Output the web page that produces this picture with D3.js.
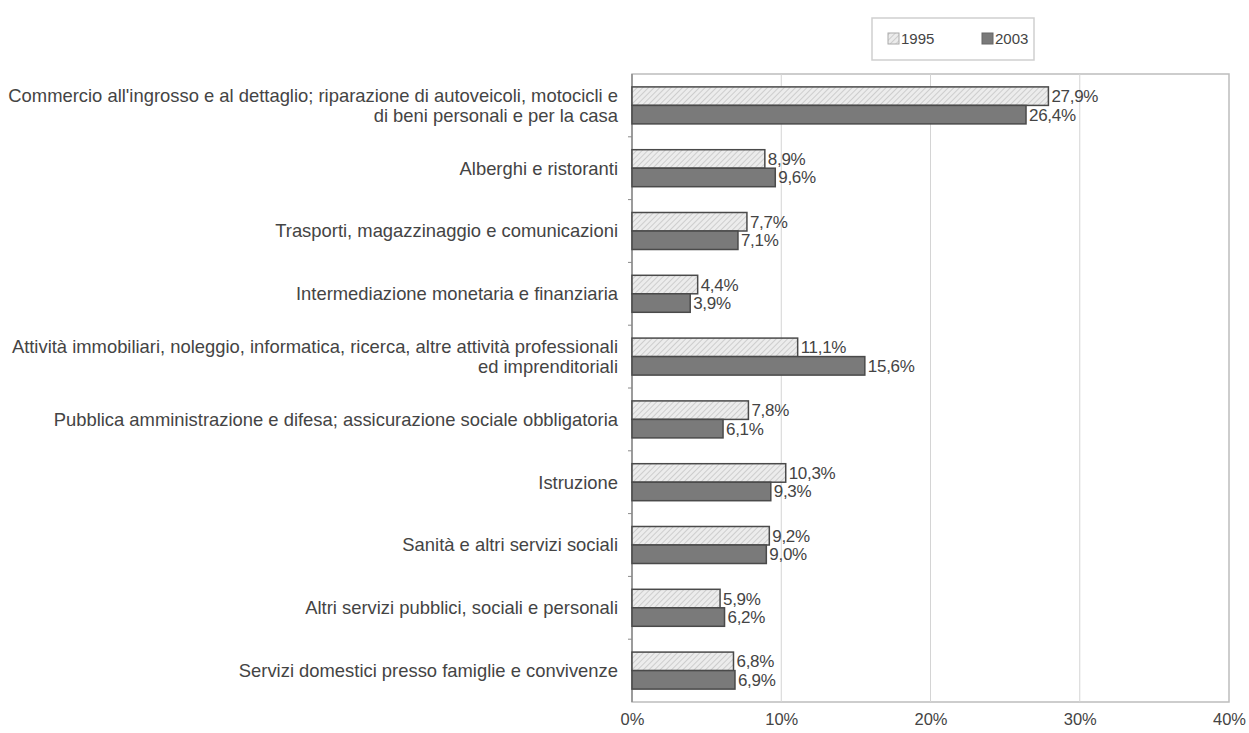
<!DOCTYPE html>
<html><head><meta charset="utf-8">
<script src="https://cdn.jsdelivr.net/npm/d3@7"></script>
<style>body{margin:0;background:#fff;}svg{display:block;font-family:"Liberation Sans",Arial,sans-serif;}</style>
</head><body>
<script>
const categories = [
  ["Commercio all'ingrosso e al dettaglio; riparazione di autoveicoli, motocicli e", "di beni personali e per la casa"],
  ["Alberghi e ristoranti"],
  ["Trasporti, magazzinaggio e comunicazioni"],
  ["Intermediazione monetaria e finanziaria"],
  ["Attività immobiliari, noleggio, informatica, ricerca, altre attività professionali", "ed imprenditoriali"],
  ["Pubblica amministrazione e difesa; assicurazione sociale obbligatoria"],
  ["Istruzione"],
  ["Sanità e altri servizi sociali"],
  ["Altri servizi pubblici, sociali e personali"],
  ["Servizi domestici presso famiglie e convivenze"]
];
const series = ["1995", "2003"];
const values1995 = [27.9, 8.9, 7.7, 4.4, 11.1, 7.8, 10.3, 9.2, 5.9, 6.8];
const values2003 = [26.4, 9.6, 7.1, 3.9, 15.6, 6.1, 9.3, 9.0, 6.2, 6.9];
const xTicks = [0, 10, 20, 30, 40];

const W = 1249, H = 733;
const svg = d3.select("body").append("svg").attr("width", W).attr("height", H);
const defs = svg.append("defs");
const pat = defs.append("pattern").attr("id","hatch").attr("patternUnits","userSpaceOnUse")
  .attr("width",4).attr("height",4).attr("patternTransform","rotate(45)");
pat.append("rect").attr("width",4).attr("height",4).attr("fill","#ececec");
pat.append("line").attr("x1",0).attr("y1",0).attr("x2",0).attr("y2",4).attr("stroke","#b8b8b8").attr("stroke-width",1.2);

const L = 632, R = 1229, T = 74, B = 702;
const x = d3.scaleLinear().domain([0, 40]).range([L, R]);
const y = d3.scaleBand().domain(d3.range(categories.length)).range([T, B]);
const inner = d3.scaleBand().domain(series).range([0, 37]);
const pad = (y.bandwidth() - 37) / 2;

// frame
svg.append("rect").attr("x", L).attr("y", T).attr("width", R - L).attr("height", B - T)
  .attr("fill", "none").attr("stroke", "#bdbdbd").attr("stroke-width", 1.5);
// gridlines
svg.append("g").selectAll("line").data(xTicks.slice(1, -1)).join("line")
  .attr("x1", d => x(d)).attr("x2", d => x(d)).attr("y1", T).attr("y2", B)
  .attr("stroke", "#d4d4d4").attr("stroke-width", 1);
// left axis
svg.append("line").attr("x1", L).attr("x2", L).attr("y1", T).attr("y2", B).attr("stroke", "#8a8a8a").attr("stroke-width", 1.5);
svg.append("g").selectAll("line").data(d3.range(1, categories.length)).join("line")
  .attr("x1", L - 4).attr("x2", L).attr("y1", d => y(d)).attr("y2", d => y(d))
  .attr("stroke", "#8a8a8a").attr("stroke-width", 1);

// x axis
const xAxis = d3.axisBottom(x).tickValues(xTicks).tickFormat(d => d + "%").tickSize(0).tickPadding(11);
const gx = svg.append("g").attr("transform", `translate(0,${B})`).call(xAxis);
gx.select(".domain").remove();
gx.selectAll("text").attr("font-size", 16.5).attr("fill", "#444").attr("font-family", '"Liberation Sans",Arial,sans-serif');

// bars
const rows = categories.map((c, i) => ({ i, v: [values1995[i], values2003[i]] }));
const g = svg.append("g");
rows.forEach(r => {
  series.forEach((s, k) => {
    const yy = y(r.i) + pad + inner(s);
    g.append("rect").attr("x", x(0)).attr("y", yy).attr("width", x(r.v[k]) - x(0)).attr("height", inner.bandwidth())
      .attr("fill", k === 0 ? "url(#hatch)" : "#7a7a7a").attr("stroke", "#4a4a4a").attr("stroke-width", 1.5);
    g.append("text").attr("x", x(r.v[k]) + 3).attr("y", yy + inner.bandwidth() / 2)
      .attr("dy", "0.35em").attr("font-size", 17).attr("letter-spacing", -0.3).attr("fill", "#444")
      .text(r.v[k].toFixed(1).replace(".", ",") + "%");
  });
});

// category labels
rows.forEach(r => {
  const lines = categories[r.i];
  const cy = y(r.i) + y.bandwidth() / 2;
  const t = svg.append("text").attr("x", 618).attr("text-anchor", "end").attr("font-size", 18.4).attr("fill", "#444");
  lines.forEach((ln, j) => {
    t.append("tspan").attr("x", 618).attr("y", cy + (j - (lines.length - 1) / 2) * 20).attr("dy", "0.35em").text(ln);
  });
});

// legend
const lg = svg.append("g");
lg.append("rect").attr("x", 872).attr("y", 18).attr("width", 162).attr("height", 42).attr("fill", "#fff").attr("stroke", "#cfcfcf").attr("stroke-width", 1.5);
const legendX = [888, 982];
series.forEach((s, k) => {
  lg.append("rect").attr("x", legendX[k]).attr("y", 33).attr("width", 11).attr("height", 11)
    .attr("fill", k === 0 ? "url(#hatch)" : "#7a7a7a").attr("stroke", k === 0 ? "#aaa" : "#666").attr("stroke-width", 1);
  lg.append("text").attr("x", legendX[k] + 13).attr("y", 39).attr("dy", "0.35em").attr("font-size", 15).attr("fill", "#444").text(s);
});
</script>
</body></html>
